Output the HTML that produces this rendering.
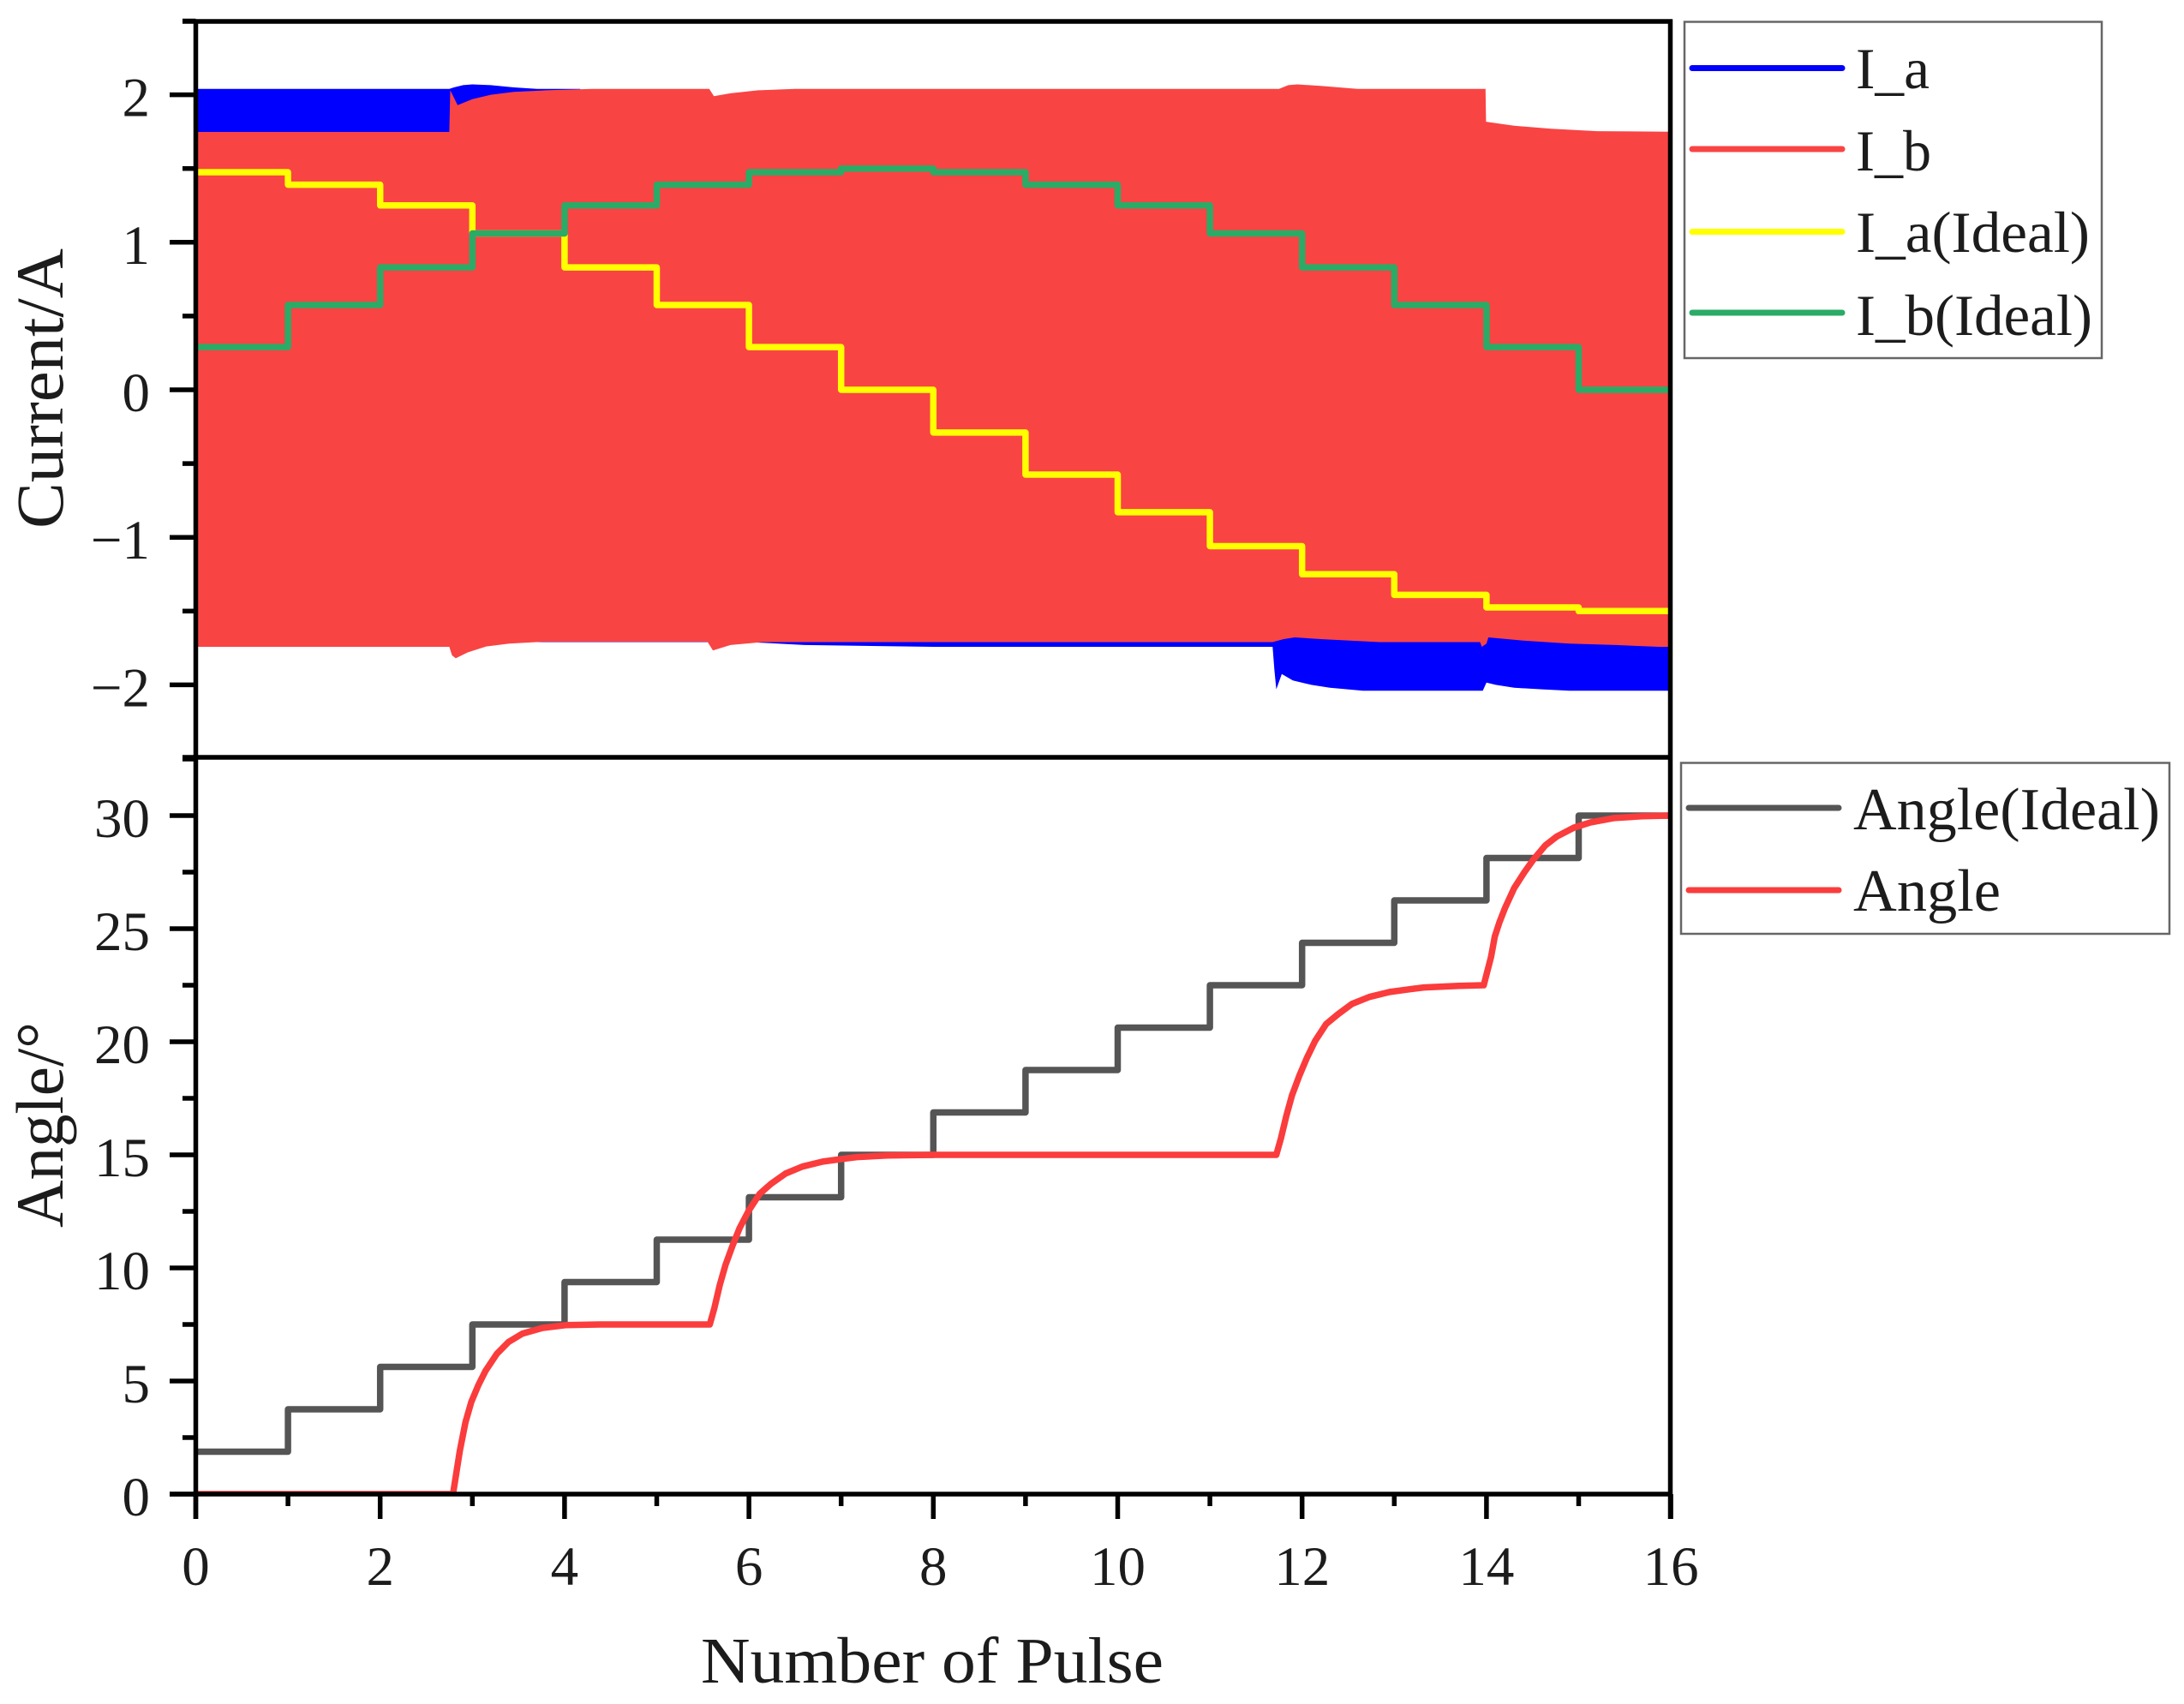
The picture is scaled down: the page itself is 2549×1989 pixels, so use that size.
<!DOCTYPE html>
<html>
<head>
<meta charset="utf-8">
<title>Current and Angle vs Number of Pulse</title>
<style>
html,body{margin:0;padding:0;background:#fff;}
svg{display:block;}
text{font-family:"Liberation Serif",serif;fill:#1c1c1c;}
</style>
</head>
<body>
<svg id="chart" xmlns="http://www.w3.org/2000/svg" width="2549" height="1989" viewBox="0 0 2549 1989"></svg>
<script>
const pulseSteps = [0,1,2,3,4,5,6,7,8,9,10,11,12,13,14,15,16];
const iaIdeal = [1.475,1.39,1.25,1.06,0.83,0.575,0.29,0,-0.29,-0.575,-0.83,-1.06,-1.25,-1.39,-1.475,-1.5];
const ibIdeal = [0.29,0.575,0.83,1.06,1.25,1.39,1.475,1.5,1.475,1.39,1.25,1.06,0.83,0.575,0.29,0];
const angleIdeal = [1.875,3.75,5.625,7.5,9.375,11.25,13.125,15,16.875,18.75,20.625,22.5,24.375,26.25,28.125,30];

const iaUpperX = [0,2.75,2.8,2.9,3,3.2,3.45,3.7,4.17,4.3,16];
const iaUpperY = [2.04,2.04,2.05,2.065,2.07,2.065,2.05,2.04,2.04,1.74,1.74];
const iaLowerX = [0,6,6.6,8,11.68,11.7,11.72,11.78,11.9,12.1,12.3,12.66,13.96,14,14.1,14.3,14.6,14.9,16];
const iaLowerY = [-1.71,-1.71,-1.73,-1.742,-1.742,-1.9,-2.03,-1.926,-1.97,-2,-2.02,-2.04,-2.04,-1.985,-2,-2.02,-2.03,-2.04,-2.04];

const ibUpperX = [0,2.75,2.76,2.84,3,3.2,3.45,3.8,4.3,5.57,5.62,5.8,6.1,6.5,11.75,11.85,11.95,12.2,12.6,13.99,13.995,14.3,14.7,15.2,16];
const ibUpperY = [1.748,1.748,2.03,1.93,1.97,2,2.02,2.03,2.04,2.04,1.99,2.01,2.03,2.04,2.04,2.065,2.07,2.06,2.04,2.04,1.817,1.79,1.77,1.753,1.75];
const ibLowerX = [0,2.75,2.78,2.82,2.95,3.15,3.4,3.76,5.55,5.61,5.8,6.15,11.68,11.8,11.92,12.2,12.84,13.93,13.95,14.0,14.02,14.4,14.9,15.4,15.87,16];
const ibLowerY = [-1.742,-1.742,-1.8,-1.82,-1.78,-1.74,-1.72,-1.708,-1.708,-1.767,-1.73,-1.71,-1.71,-1.69,-1.678,-1.69,-1.71,-1.71,-1.742,-1.72,-1.678,-1.7,-1.72,-1.73,-1.742,-1.742];

const angleX = [0,2.79,2.864,2.926,2.988,3.065,3.143,3.267,3.39,3.545,3.762,4.01,4.38,5.575,5.625,5.683,5.745,5.823,5.9,5.997,6.117,6.24,6.396,6.58,6.8,7.01,7.17,7.5,8,11.72,11.77,11.83,11.89,11.97,12.05,12.14,12.26,12.39,12.54,12.73,12.95,13.16,13.32,13.7,13.97,14.05,14.09,14.14,14.2,14.3,14.41,14.51,14.64,14.76,14.95,15.13,15.38,15.69,16];
const angleY = [0,0,1.92,3.18,4.07,4.82,5.45,6.21,6.72,7.1,7.35,7.47,7.5,7.5,8.23,9.24,10.13,11,11.77,12.53,13.28,13.72,14.17,14.48,14.7,14.82,14.9,14.97,15,15,15.73,16.74,17.63,18.5,19.27,20.03,20.78,21.22,21.67,21.98,22.2,22.32,22.4,22.47,22.5,23.76,24.65,25.28,25.9,26.79,27.49,28.06,28.69,29.07,29.47,29.7,29.89,29.97,30];

const xTickLabels = ["0","2","4","6","8","10","12","14","16"];
const currentTickValues = [-2,-1,0,1,2];
const currentTickLabels = ["\u22122","\u22121","0","1","2"];
const currentMinorValues = [-2.5,-1.5,-0.5,0.5,1.5,2.5];
const angleTickValues = [0,5,10,15,20,25,30];
const angleMinorValues = [2.5,7.5,12.5,17.5,22.5,27.5,32.5];

const svgNS = "http://www.w3.org/2000/svg";
const root = document.getElementById("chart");
function xAxis(v){ return 228.5 + v * 107.6; }
function currentAxis(v){ return 455 - v * 172.2; }
function angleAxis(v){ return 1744 - v * 26.4; }
function make(tag, attrs, parent){
  const el = document.createElementNS(svgNS, tag);
  for (const k in attrs) el.setAttribute(k, attrs[k]);
  (parent || root).appendChild(el);
  return el;
}
function pointsOf(xs, ys, fy){
  return xs.map(function(x, i){ return xAxis(x).toFixed(1) + "," + fy(ys[i]).toFixed(1); });
}
function stepPoints(vals, fy){
  const pts = [];
  vals.forEach(function(v, i){
    pts.push(xAxis(pulseSteps[i]).toFixed(1) + "," + fy(v).toFixed(1));
    pts.push(xAxis(pulseSteps[i + 1]).toFixed(1) + "," + fy(v).toFixed(1));
  });
  return pts.join(" ");
}
function bandPoints(ux, uy, lx, ly){
  return pointsOf(ux, uy, currentAxis).concat(pointsOf(lx, ly, currentAxis).reverse()).join(" ");
}

const defs = make("defs", {});
const clip = make("clipPath", {id: "plot-clip"}, defs);
make("rect", {x: 228.5, y: 25, width: 1720.5, height: 1719}, clip);

const plotGroup = make("g", {"clip-path": "url(#plot-clip)"});



const iaBand = make("polygon", {points: bandPoints(iaUpperX, iaUpperY, iaLowerX, iaLowerY), fill: "#0000ff"}, plotGroup);



const ibBand = make("polygon", {points: bandPoints(ibUpperX, ibUpperY, ibLowerX, ibLowerY), fill: "#f94444"}, plotGroup);



const lineStyle = {fill: "none", "stroke-width": 7.5, "stroke-linejoin": "round"};
const iaLine = make("polyline", Object.assign({points: stepPoints(iaIdeal, currentAxis), stroke: "#ffff00"}, lineStyle), plotGroup);



const ibLine = make("polyline", Object.assign({points: stepPoints(ibIdeal, currentAxis), stroke: "#2bab66"}, lineStyle), plotGroup);



const angleIdealLine = make("polyline", Object.assign({points: stepPoints(angleIdeal, angleAxis), stroke: "#555555"}, lineStyle), plotGroup);



const angleLine = make("polyline", Object.assign({points: pointsOf(angleX, angleY, angleAxis).join(" "), stroke: "#fb3c3c"}, lineStyle), plotGroup);



const axisGroup = make("g", {stroke: "#000", "stroke-width": 5.5, fill: "none"});



const frameTop = make("line", {x1: 213, y1: 25, x2: 1952, y2: 25}, axisGroup);


const frameMiddle = make("line", {x1: 213, y1: 884, x2: 1952, y2: 884}, axisGroup);


const frameBottom = make("line", {x1: 198, y1: 1744, x2: 1952, y2: 1744}, axisGroup);


const frameLeft = make("line", {x1: 228.5, y1: 22.5, x2: 228.5, y2: 1773}, axisGroup);


const frameRight = make("line", {x1: 1949.5, y1: 22.5, x2: 1949.5, y2: 1773}, axisGroup);



function addLabel(str, x, y, size, anchor, parent){
  const t = make("text", {x: x, y: y, "font-size": size, "text-anchor": anchor}, parent);
  t.textContent = str;
  return t;
}

pulseSteps.forEach(function(v){
  const major = v % 2 === 0;
  const tick = make("line", {x1: xAxis(v), y1: 1744, x2: xAxis(v), y2: major ? 1773 : 1758}, axisGroup);
  
  
});
xTickLabels.forEach(function(lbl){
  const t = addLabel(lbl, xAxis(Number(lbl)), 1850, 65, "middle");
  
  
});

currentTickValues.forEach(function(v, i){
  const tick = make("line", {x1: 198, y1: currentAxis(v), x2: 228.5, y2: currentAxis(v)}, axisGroup);
  
  
  const t = addLabel(currentTickLabels[i], 175, currentAxis(v) + 25, 65, "end");
  
  
});
currentMinorValues.forEach(function(v){
  const tick = make("line", {x1: 213, y1: currentAxis(v), x2: 228.5, y2: currentAxis(v)}, axisGroup);
  
  
});
angleTickValues.forEach(function(v){
  const tick = make("line", {x1: 198, y1: angleAxis(v), x2: 228.5, y2: angleAxis(v)}, axisGroup);
  
  
  const t = addLabel(String(v), 175, angleAxis(v) + 25, 65, "end");
  
  
});
angleMinorValues.forEach(function(v){
  const tick = make("line", {x1: 213, y1: angleAxis(v), x2: 228.5, y2: angleAxis(v)}, axisGroup);
  
  
});

const currentTitle = make("text", {transform: "translate(73,617) rotate(-90)", "font-size": 78, textLength: 327, lengthAdjust: "spacingAndGlyphs"});
currentTitle.textContent = "Current/A";



const angleTitle = make("text", {transform: "translate(73,1433) rotate(-90)", "font-size": 78, textLength: 240, lengthAdjust: "spacingAndGlyphs"});
angleTitle.textContent = "Angle/\u00b0";



const xTitle = make("text", {x: 818, y: 1964, "font-size": 76, textLength: 540, lengthAdjust: "spacingAndGlyphs"});
xTitle.textContent = "Number of Pulse";



function legendEntry(group, label, color, x1, x2, lineY, textX, baseY, size, width){
  const entry = make("g", {}, group);
  
  
  make("line", {x1: x1, x2: x2, y1: lineY, y2: lineY, stroke: color, "stroke-width": 7, "stroke-linecap": "round"}, entry);
  make("text", {x: textX, y: baseY, "font-size": size, textLength: width, lengthAdjust: "spacingAndGlyphs"}, entry).textContent = label;
}

const legendTop = make("g", {});


make("rect", {x: 1966, y: 25.5, width: 487, height: 392.5, fill: "#fff", stroke: "#666", "stroke-width": 2.5}, legendTop);
legendEntry(legendTop, "I_a", "#0000ff", 1975, 2150, 79.5, 2166, 103, 68, 86);
legendEntry(legendTop, "I_b", "#f94444", 1975, 2150, 174, 2166, 199, 68, 88);
legendEntry(legendTop, "I_a(Ideal)", "#ffff00", 1975, 2150, 270.5, 2166, 294, 68, 273);
legendEntry(legendTop, "I_b(Ideal)", "#2bab66", 1975, 2150, 365, 2166, 391, 68, 276);

const legendBottom = make("g", {});


make("rect", {x: 1962, y: 890.5, width: 570, height: 199.5, fill: "#fff", stroke: "#666", "stroke-width": 2.5}, legendBottom);
legendEntry(legendBottom, "Angle(Ideal)", "#555555", 1971, 2146, 943, 2163, 968, 70, 358);
legendEntry(legendBottom, "Angle", "#fb3c3c", 1971, 2146, 1039, 2163, 1063, 70, 172);
</script>
</body>
</html>
